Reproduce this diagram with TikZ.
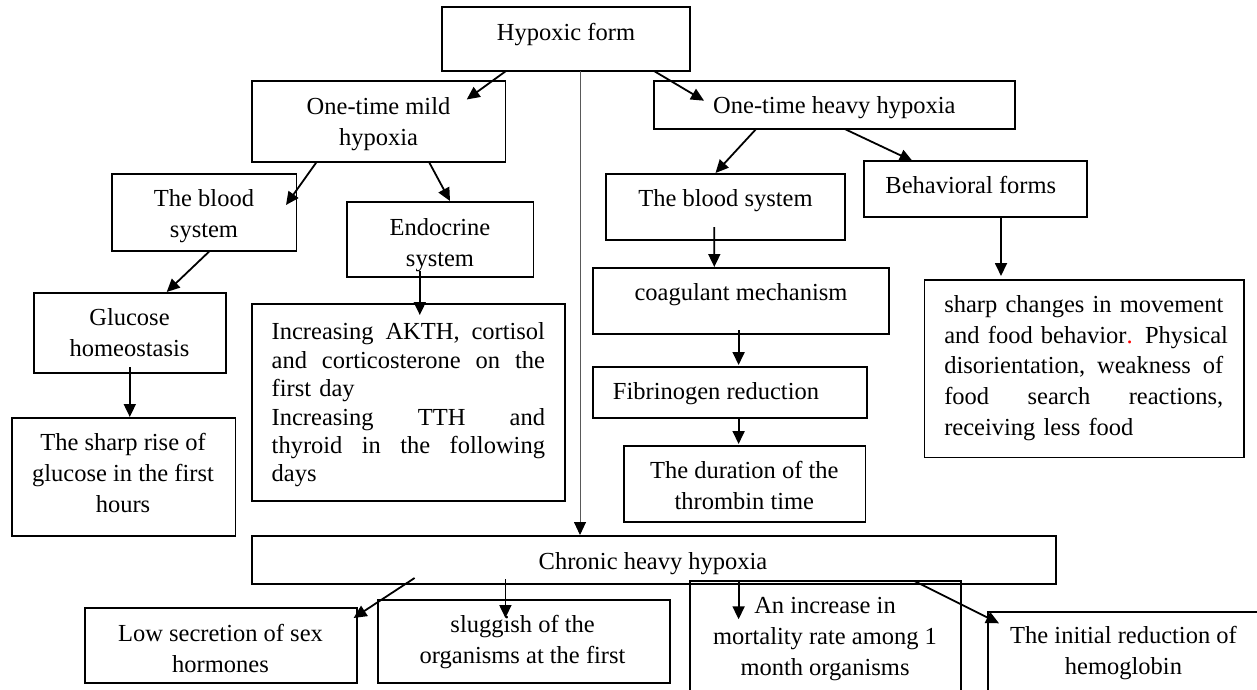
\documentclass[tikz,border=0pt]{standalone}
\usepackage{fontspec}
\setmainfont{Liberation Serif}
\usetikzlibrary{arrows.meta}
\tikzset{
  box/.style={draw=black, line width=1.8pt, inner sep=0pt, outer sep=0pt, anchor=north west},
  txt/.style={inner sep=0pt, outer sep=0pt, align=center, anchor=north, font=\fontsize{24.5pt}{31pt}\selectfont},
  ptxt/.style={inner sep=0pt, outer sep=0pt, align=left, anchor=north west},
  arr/.style={line width=1.8pt, -{Triangle[length=13pt,width=12pt]}},
  thinarr/.style={line width=0.9pt, draw=black!65, -{Triangle[length=13pt,width=12pt,color=black]}}
}
\begin{document}
\begin{tikzpicture}[x=1pt,y=-1pt]
\useasboundingbox (0,0) rectangle (1257,690);
\clip (0,0) rectangle (1257,690);
% boxes
\node[box, minimum width=248pt, minimum height=64pt] (hyp) at (442,7) {};
\node[box, minimum width=253.5pt, minimum height=81pt] (mild) at (252,81) {};
\node[box, minimum width=361pt, minimum height=48pt] (heavy) at (654,81) {};
\node[box, minimum width=184.8pt, minimum height=77pt] (bloodL) at (111.7,174) {};
\node[box, minimum width=186.8pt, minimum height=75pt] (endo) at (346.7,202) {};
\node[box, minimum width=238.8pt, minimum height=66pt] (bloodR) at (605.9,174) {};
\node[box, minimum width=223pt, minimum height=56pt] (behav) at (864.2,161) {};
\node[box, minimum width=192.1pt, minimum height=80pt] (gluc) at (33.7,293) {};
\node[box, minimum width=313.3pt, minimum height=197pt] (akth) at (251.7,304) {};
\node[box, minimum width=296.3pt, minimum height=66pt] (coag) at (593,268) {};
\node[box, minimum width=319.5pt, minimum height=177.5pt] (sharp) at (924.5,280) {};
\node[box, minimum width=223.7pt, minimum height=118pt] (rise) at (11.7,418) {};
\node[box, minimum width=274pt, minimum height=51pt] (fib) at (593,367) {};
\node[box, minimum width=241.4pt, minimum height=76pt] (dur) at (624,446) {};
\node[box, minimum width=804pt, minimum height=48pt] (chron) at (252,536) {};
\node[box, minimum width=271.6pt, minimum height=75pt] (low) at (85.2,608) {};
\node[box, minimum width=291.9pt, minimum height=83pt] (slug) at (377.7,600) {};
\node[box, minimum width=270.8pt, minimum height=119.3pt] (incr) at (690,580.7) {};
\node[box, minimum width=282pt, minimum height=88.3pt] (init) at (988,611.7) {};
% texts
\node[txt] (tHyp) at (566,19.3) {\strut Hypoxic form};
\node[txt] (tMild) at (378.5,92.3) {\strut One-time mild\\hypoxia};
\node[txt] (tBloodL) at (204,184.3) {\strut The blood\\system};
\node[txt] (tEndo) at (440,213.3) {\strut Endocrine\\system};
\node[txt] (tGluc) at (129.5,303.3) {\strut Glucose\\homeostasis};
\node[txt] (tRise) at (123,428.3) {\strut The sharp rise of\\glucose in the first\\hours};
\node[txt] (tHeavy) at (834.3,92.3) {\strut One-time heavy hypoxia};
\node[txt] (tBloodR) at (725.5,185) {\strut The blood system};
\node[txt] (tBehav) at (970.8,171.6) {\strut Behavioral forms};
\node[txt] (tCoag) at (741,278.3) {\strut coagulant mechanism};
\node[txt] (tFib) at (716,377.6) {\strut Fibrinogen reduction};
\node[txt] (tDur) at (744.3,456.6) {\strut The duration of the\\thrombin time};
\node[txt] (tChron) at (653,547.6) {\strut Chronic heavy hypoxia};
\node[txt] (tLow) at (220.5,620) {\strut Low secretion of sex\\hormones};
\node[txt] (tSlug) at (522.6,611) {\strut sluggish of the\\organisms at the first};
\node[txt] (tIncr) at (825,591.6) {\strut An increase in\\mortality rate among 1\\month organisms};
\node[txt] (tInit) at (1123.5,621.6) {\strut The initial reduction of\\hemoglobin};
\node[ptxt, text width=273.3pt, font=\fontsize{24.5pt}{28.4pt}\selectfont] (tAkth) at (271.7,320.1)
 {\strut\makebox[273.3pt][l]{Increasing \hfill AKTH, \hfill cortisol}\\
  \makebox[273.3pt][l]{and \hfill corticosterone \hfill on \hfill the}\\
  first day\\
  \makebox[273.3pt][l]{Increasing \hfill TTH \hfill and}\\
  \makebox[273.3pt][l]{thyroid \hfill in \hfill the \hfill following}\\
  days};
\node[ptxt, text width=279pt, font=\fontsize{24.5pt}{30.6pt}\selectfont] (tSharp) at (944.3,291.3)
 {\strut\makebox[279pt][l]{sharp \hfill changes \hfill in \hfill movement}\\
  \makebox[279pt][l]{and \hfill food \hfill behavior\textcolor{red}{.} \hfill Physical}\\
  \makebox[279pt][l]{disorientation, \hfill weakness \hfill of}\\
  \makebox[279pt][l]{food \hfill search \hfill reactions,}\\
  receiving less food};
% connectors
\draw[arr] ([xshift=64pt]hyp.south west) -- ([xshift=214.7pt,yshift=-18.5pt]mild.north west);
\draw[arr] ([xshift=212pt]hyp.south west) -- ([xshift=50pt,yshift=-19.7pt]heavy.north west);
\draw[thinarr] ([xshift=138pt]hyp.south west) -- ([xshift=328pt,yshift=1pt]chron.north west);
\draw[arr] ([xshift=64.6pt]mild.south west) -- ([xshift=174.3pt,yshift=-31pt]bloodL.north west);
\draw[arr] ([xshift=177pt]mild.south west) -- ([xshift=103.3pt,yshift=1pt]endo.north west);
\draw[arr] ([xshift=98pt]bloodL.south west) -- ([xshift=133pt,yshift=1pt]gluc.north west);
\draw[arr] ([xshift=73.1pt,yshift=6pt]endo.south west) -- ([xshift=168.1pt,yshift=-11pt]akth.north west);
\draw[arr] ([xshift=96.1pt,yshift=6pt]gluc.south west) -- ([xshift=118.1pt,yshift=1pt]rise.north west);
\draw[arr] ([xshift=102.1pt]heavy.south west) -- ([xshift=109.6pt,yshift=1pt]bloodR.north west);
\draw[arr] ([xshift=190.7pt]heavy.south west) -- ([xshift=48.3pt]behav.north west);
\draw[arr] ([xshift=108.4pt,yshift=13pt]bloodR.south west) -- ([xshift=121.3pt,yshift=1pt]coag.north west);
\draw[arr] ([xshift=145.6pt,yshift=4pt]coag.south west) -- ([xshift=145.6pt,yshift=2pt]fib.north west);
\draw[arr] ([xshift=145.6pt]fib.south west) -- ([xshift=114.6pt,yshift=2pt]dur.north west);
\draw[arr] ([xshift=136.8pt]behav.south west) -- ([xshift=76.5pt,yshift=4pt]sharp.north west);
\draw[arr] ([xshift=162.6pt,yshift=6pt]chron.south west) -- ([xshift=268.4pt,yshift=-10pt]low.north west);
\draw[arr] ([xshift=253.4pt,yshift=5pt]chron.south west) -- ([xshift=127.7pt,yshift=-18pt]slug.north west);
\draw[arr] ([xshift=486.6pt,yshift=3pt]chron.south west) -- ([xshift=48.6pt,yshift=-38.6pt]incr.north west);
\draw[arr] ([xshift=662.4pt,yshift=3pt]chron.south west) -- ([xshift=11pt,yshift=-11.6pt]init.north west);
\end{tikzpicture}
\end{document}
